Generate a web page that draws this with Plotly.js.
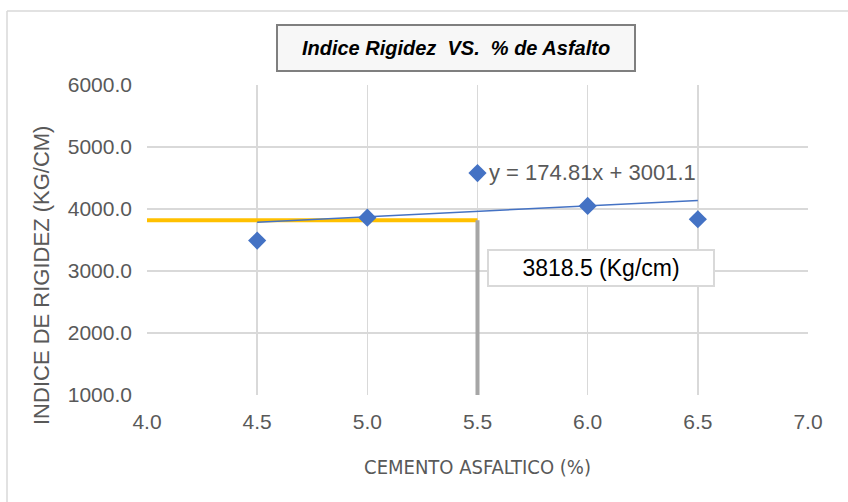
<!DOCTYPE html>
<html>
<head>
<meta charset="utf-8">
<script src="https://cdn.plot.ly/plotly-3.0.1.min.js"></script>
<style>html,body{margin:0;padding:0;background:#fff;}#chart{width:848px;height:502px;}</style>
</head>
<body>
<div id="chart"></div>
<script>
// Data
const asphaltPct = [4.5, 5.0, 5.5, 6.0, 6.5];
const stiffness = [3490, 3860, 4580, 4050, 3835];
const trendSlope = 174.81;
const trendIntercept = 3001.1;
const trendRange = [4.5, 6.5];
const optimumPct = 5.5;
const optimumValue = 3818.5;
const xTicks = [4.0, 4.5, 5.0, 5.5, 6.0, 6.5, 7.0];
const yTicks = [1000, 2000, 3000, 4000, 5000, 6000];

const trendY = trendRange.map(x => trendSlope * x + trendIntercept);

const traces = [
  { x: [xTicks[0], optimumPct], y: [optimumValue, optimumValue], mode: 'lines',
    line: {color: '#FFC000', width: 4}, hoverinfo: 'skip', showlegend: false },
  { x: [optimumPct, optimumPct], y: [yTicks[0], optimumValue], mode: 'lines',
    line: {color: '#A6A6A6', width: 4}, hoverinfo: 'skip', showlegend: false },
  { x: trendRange, y: trendY, mode: 'lines',
    line: {color: '#4472C4', width: 1.5}, hoverinfo: 'skip', showlegend: false },
  { x: asphaltPct, y: stiffness, mode: 'markers',
    marker: {symbol: 'diamond', size: 14, color: '#4472C4'}, showlegend: false }
];

const layout = {
  width: 848, height: 502,
  margin: {l: 147, r: 40, t: 85, b: 107},
  paper_bgcolor: '#ffffff', plot_bgcolor: '#ffffff',
  font: {family: 'Arial, "Liberation Sans", sans-serif', color: '#595959'},
  xaxis: {
    range: [4.0, 7.0], tickvals: xTicks, tickformat: '.1f',
    showgrid: true, gridcolor: '#D9D9D9', gridwidth: 1.5, zeroline: false,
    showline: false, ticks: '', ticklabelstandoff: 12,
    tickfont: {size: 21, color: '#595959'},
    title: {text: 'CEMENTO ASFALTICO (%)', standoff: 27,
      font: {family: '"Liberation Sans Narrow", "DejaVu Sans Condensed", Arial', size: 20, color: '#595959'}}
  },
  yaxis: {
    range: [1000, 6000], tickvals: yTicks, tickformat: '.1f',
    showgrid: true, gridcolor: '#D9D9D9', gridwidth: 1.5, zeroline: false,
    showline: false, ticks: '', ticklabelstandoff: 14,
    tickfont: {size: 21, color: '#595959'}
  },
  shapes: [
    {type: 'line', xref: 'paper', yref: 'paper', x0: -0.2118, x1: -0.2118, y0: 1.2387, y1: -0.35,
     line: {color: '#D9D9D9', width: 1.5}},
    {type: 'line', xref: 'paper', yref: 'paper', x0: -0.2118, x1: 1.07, y0: 1.2387, y1: 1.2387,
     line: {color: '#D9D9D9', width: 1.5}}
  ],
  annotations: [
    {xref: 'paper', yref: 'paper', x: -0.1604, y: 0.387, xanchor: 'center', yanchor: 'middle',
     text: 'INDICE DE RIGIDEZ (KG/CM)', textangle: -90, showarrow: false,
     font: {size: 22, color: '#595959'}},
    {xref: 'paper', yref: 'paper', x: 0.4675, y: 1.119, xanchor: 'center', yanchor: 'middle',
     text: '<b><i>Indice Rigidez  VS.  % de Asfalto</i></b>', showarrow: false,
     font: {size: 20, color: '#000000', family: 'Arial, "Liberation Sans"'},
     bgcolor: '#f7f7f7', bordercolor: '#7f7f7f', borderwidth: 2, borderpad: 11, width: 334},
    {xref: 'x', yref: 'y', x: 5.545, y: 4590, xanchor: 'left', yanchor: 'middle',
     text: 'y = 174.81x + 3001.1', showarrow: false,
     font: {size: 22, color: '#595959'}},
    {xref: 'x', yref: 'y', x: 6.06, y: 3056, xanchor: 'center', yanchor: 'middle',
     text: '3818.5 (Kg/cm)', showarrow: false,
     font: {size: 23, color: '#000000'},
     bgcolor: '#ffffff', bordercolor: '#D9D9D9', borderwidth: 2, borderpad: 4, width: 216}
  ]
};

Plotly.newPlot('chart', traces, layout, {displayModeBar: false, staticPlot: true});
</script>
</body>
</html>
